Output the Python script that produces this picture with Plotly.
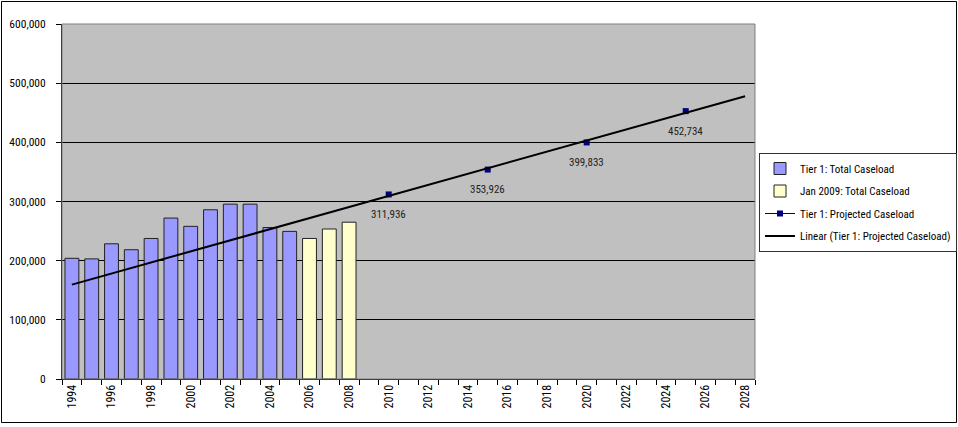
import numpy as np
import plotly.graph_objects as go

# ---- data ----
tier1_years = list(range(1994, 2006))
tier1_values = [204000, 203000, 228500, 218500, 237500, 272000, 258000,
                286000, 295500, 295500, 256000, 249500]
jan_years = [2006, 2007, 2008]
jan_values = [237500, 253500, 265000]
proj_years = [2010, 2015, 2020, 2025]
proj_values = [311936, 353926, 399833, 452734]
all_years = list(range(1994, 2029))
xtick_years = list(range(1994, 2029, 2))
ytick_values = [0, 100000, 200000, 300000, 400000, 500000, 600000]

FONT = "Roboto Condensed, Arial Narrow, sans-serif"

# projected series on full category set (gaps where no data)
proj_map = dict(zip(proj_years, proj_values))
proj_full = [proj_map.get(y) for y in all_years]

# linear trendline of projected caseload (Excel-style on category index)
idx = np.array([all_years.index(y) for y in proj_years], dtype=float)
slope, intercept = np.polyfit(idx, np.array(proj_values, dtype=float), 1)
trend_vals = [intercept + slope * i for i in range(len(all_years))]

fig = go.Figure()
fig.add_trace(go.Bar(x=tier1_years, y=tier1_values, name="Tier 1: Total Caseload",
                     legendgroup="a",
                     marker=dict(color="#9999FF", line=dict(color="#222222", width=1)),
                     width=0.7))
fig.add_trace(go.Bar(x=jan_years, y=jan_values, name="Jan 2009: Total Caseload",
                     legendgroup="b",
                     marker=dict(color="#FFFFCC", line=dict(color="#222222", width=1)),
                     width=0.7))
fig.add_trace(go.Scatter(x=all_years, y=proj_full, name="Tier 1: Projected Caseload",
                         legendgroup="c",
                         mode="lines+markers", connectgaps=False,
                         line=dict(color="#000080", width=1),
                         marker=dict(symbol="square", size=6, color="#000080")))
fig.add_trace(go.Scatter(x=all_years, y=trend_vals, name="Linear (Tier 1: Projected Caseload)",
                         legendgroup="d",
                         mode="lines", line=dict(color="black", width=2)))

for yr, v in zip(proj_years, proj_values):
    fig.add_annotation(x=yr, y=v, text=f"{v:,}", showarrow=False, yshift=-20,
                       font=dict(family=FONT, size=11, color="#222222"))

W, H = 958, 427
ml, mr, mt, mb = 62, 203, 24, 48
pw, ph = W - ml - mr, H - mt - mb

def px2paper_x(px):
    return (px - ml) / pw

def px2paper_y(py):
    return (H - mb - py) / ph

# outer chart border
fig.add_shape(type="rect", xref="paper", yref="paper",
              x0=px2paper_x(1.5), x1=px2paper_x(956.5),
              y0=px2paper_y(422.5), y1=px2paper_y(1.5),
              line=dict(color="black", width=1), layer="above")
# plot area gray border
fig.add_shape(type="rect", xref="paper", yref="paper", x0=0, x1=1, y0=0, y1=1,
              line=dict(color="#808080", width=1), layer="above")

fig.update_layout(
    width=W, height=H,
    margin=dict(l=ml, r=mr, t=mt, b=mb, autoexpand=False),
    paper_bgcolor="white", plot_bgcolor="#C0C0C0",
    barmode="overlay", bargap=0.3,
    font=dict(family=FONT, size=12, color="black"),
    legend=dict(x=px2paper_x(759), xanchor="left", y=px2paper_y(153), yanchor="top",
                bgcolor="white", bordercolor="#333333", borderwidth=1,
                font=dict(family=FONT, size=11, color="black"),
                tracegroupgap=3.5, itemwidth=30),
    showlegend=True,
)
fig.update_xaxes(
    range=[1993.5, 2028.5], tickmode="array", tickvals=xtick_years,
    ticktext=[str(y) for y in xtick_years], tickangle=-90,
    ticks="", showgrid=False, zeroline=False,
    showline=True, linecolor="black", linewidth=1,
    tickfont=dict(family=FONT, size=12, color="black"),
    minor=dict(tickmode="linear", tick0=1993.5, dtick=1, ticks="outside",
               ticklen=5, tickcolor="black", showgrid=False),
)
fig.update_yaxes(
    range=[0, 600000], tickmode="array", tickvals=ytick_values,
    ticktext=[f"{v:,}" for v in ytick_values],
    ticks="outside", ticklen=5, tickcolor="black", ticklabelstandoff=8,
    showgrid=True, gridcolor="black", gridwidth=1, zeroline=False,
    showline=True, linecolor="black", linewidth=1,
    tickfont=dict(family=FONT, size=11.5, color="black"),
)

fig.write_html("out.html")
